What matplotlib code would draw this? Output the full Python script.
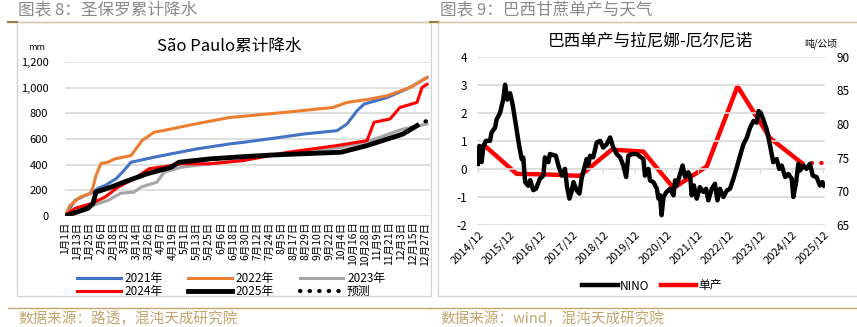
import matplotlib
matplotlib.use('Agg')
import matplotlib.pyplot as plt
from matplotlib.lines import Line2D
from matplotlib.patches import Rectangle
from matplotlib.ticker import FuncFormatter

plt.rcParams['font.family'] = ['Noto Sans CJK SC', 'DejaVu Sans']
plt.rcParams['axes.unicode_minus'] = False

# ---- left chart: cumulative rainfall, day of year vs mm ----
day_2021 = [0, 10, 20, 25, 33, 40, 51, 59, 66, 89, 106, 132, 165, 178, 206, 239, 272, 282, 292, 299, 322, 345, 362]
mm_2021 = [0, 122, 160, 174, 215, 238, 290, 355, 419, 458, 484, 523, 562, 574, 603, 639, 665, 717, 820, 872, 923, 1001, 1079]
day_2022 = [0, 5, 15, 25, 28, 31, 36, 43, 50, 66, 71, 77, 89, 106, 122, 139, 165, 173, 219, 268, 282, 305, 322, 345, 362]
mm_2022 = [0, 83, 147, 174, 225, 316, 409, 419, 445, 471, 523, 588, 652, 678, 704, 730, 768, 773, 807, 846, 885, 911, 937, 1001, 1079]
day_2023 = [0, 23, 43, 56, 69, 76, 92, 99, 116, 145, 178, 206, 276, 305, 338, 362]
mm_2023 = [0, 70, 122, 178, 186, 225, 264, 341, 380, 407, 432, 471, 535, 587, 678, 717]
day_2024 = [0, 10, 26, 40, 53, 69, 84, 106, 116, 145, 178, 223, 272, 302, 309, 325, 335, 352, 357, 362]
mm_2024 = [0, 60, 96, 147, 225, 290, 368, 393, 407, 407, 432, 497, 549, 587, 730, 756, 846, 885, 1001, 1027]
day_2025 = [0, 23, 28, 31, 46, 59, 82, 106, 114, 145, 178, 206, 276, 302, 338, 352]
mm_2025 = [0, 60, 98, 186, 225, 264, 329, 380, 419, 445, 462, 475, 497, 549, 639, 704]
day_fc = [352, 356, 359, 362]
mm_fc = [704, 720, 735, 740]

date_ticks = list(range(0, 361, 12))
date_labels = ['1月1日', '1月13日', '1月25日', '2月6日', '2月18日', '3月2日', '3月14日', '3月26日',
               '4月7日', '4月19日', '5月1日', '5月13日', '5月25日', '6月6日', '6月18日', '6月30日',
               '7月12日', '7月24日', '8月5日', '8月17日', '8月29日', '9月10日', '9月22日', '10月4日',
               '10月16日', '10月28日', '11月9日', '11月21日', '12月3日', '12月15日', '12月27日']

# ---- right chart: NINO index and Brazil cane yield ----
nino_t = [2014.91, 2014.96, 2015.03, 2015.09, 2015.17, 2015.30, 2015.35, 2015.46, 2015.51, 2015.62,
          2015.72, 2015.78, 2015.85, 2015.94, 2016.02, 2016.13, 2016.23, 2016.31, 2016.36, 2016.42,
          2016.52, 2016.58, 2016.68, 2016.77, 2016.89, 2017.00, 2017.05, 2017.16, 2017.21, 2017.40,
          2017.48, 2017.59, 2017.69, 2017.75, 2017.83, 2017.90, 2017.96, 2018.06, 2018.15, 2018.22,
          2018.30, 2018.38, 2018.43, 2018.49, 2018.59, 2018.70, 2018.81, 2018.91, 2019.02, 2019.13,
          2019.23, 2019.34, 2019.45, 2019.55, 2019.64, 2019.71, 2019.82, 2019.98, 2020.07, 2020.19,
          2020.24, 2020.35, 2020.40, 2020.51, 2020.62, 2020.67, 2020.72, 2020.77, 2020.83, 2020.93,
          2021.04, 2021.15, 2021.20, 2021.25, 2021.36, 2021.44, 2021.52, 2021.62, 2021.68, 2021.73,
          2021.80, 2021.89, 2021.99, 2022.10, 2022.19, 2022.26, 2022.37, 2022.47, 2022.55, 2022.63,
          2022.74, 2022.85, 2022.95, 2023.06, 2023.17, 2023.27, 2023.38, 2023.49, 2023.59, 2023.70,
          2023.80, 2023.86, 2023.93, 2024.01, 2024.12, 2024.23, 2024.33, 2024.44, 2024.52, 2024.60,
          2024.71, 2024.81, 2024.92, 2024.97, 2025.06, 2025.13, 2025.18, 2025.29, 2025.39, 2025.50,
          2025.59, 2025.71, 2025.82, 2025.90, 2025.95]
nino_v = [0.18, 0.82, 0.24, 0.80, 1.00, 1.00, 1.30, 1.47, 1.76, 2.00,
          2.47, 3.00, 2.47, 2.70, 2.30, 1.53, 0.82, 0.35, 0.40, -0.47,
          -0.60, -0.40, -0.76, -0.70, -0.35, -0.24, 0.41, 0.24, 0.53, 0.47,
          0.12, -0.24, 0.00, -0.60, -1.06, -0.82, -0.47, -0.76, -0.88, -0.35,
          0.00, 0.35, 0.12, 0.47, 0.41, 0.94, 1.00, 0.76, 0.88, 1.12,
          0.76, 0.53, 0.41, 0.12, -0.29, 0.47, 0.53, 0.53, 0.45, 0.35,
          -0.24, 0.00, -0.41, -0.47, -0.71, -1.06, -0.94, -1.65, -1.00, -0.82,
          -0.71, -0.94, -0.41, -0.59, -0.18, 0.12, -0.29, -0.12, -0.24, -0.94,
          -0.59, -1.06, -0.65, -0.82, -0.71, -1.12, -0.71, -0.53, -1.12, -0.71,
          -1.00, -0.77, -0.71, -0.35, 0.06, 0.47, 0.88, 1.12, 1.47, 1.71,
          1.65, 2.06, 2.00, 1.77, 1.41, 0.82, 0.24, 0.35, 0.00, 0.12,
          -0.29, -0.18, -0.35, -1.00, -0.47, 0.18, -0.06, 0.12, 0.00, 0.18,
          -0.24, -0.29, -0.59, -0.47, -0.59]

yield_t = [2015.1, 2016.15, 2017.17, 2018.17, 2019.18, 2020.19, 2021.15, 2022.21, 2023.19, 2024.23, 2025.24]
yield_v = [76.9, 72.6, 72.5, 72.3, 76.2, 75.9, 70.5, 73.7, 85.6, 77.9, 74.2]
yield_fc_t = [2025.24, 2025.5, 2025.75, 2025.97]
yield_fc_v = [74.2, 74.2, 74.2, 74.2]

year_ticks = [2014.917 + i for i in range(12)]
year_labels = ['%d/12' % (2014 + i) for i in range(12)]

W, H = 857, 327
fig = plt.figure(figsize=(W / 100, H / 100), dpi=100)


def fx(px):
    return px / W


def fy(py):
    return 1 - py / H


gold = '#c3a46c'
grid_c = '#d9d9d9'

# frames, rules and captions
for x0, x1 in [(17, 431), (438, 860)]:
    fig.add_artist(Rectangle((fx(x0), fy(296)), fx(x1 - x0), (296 - 22) / H,
                             fill=False, ec='#d4d4d4', lw=1.0, transform=fig.transFigure))
for x0, x1, xd in [(8, 430, 17), (430, 857, 438)]:
    fig.add_artist(Line2D([fx(x0), fx(x1)], [fy(22), fy(22)], color='#d9c9a8', lw=1.0,
                          transform=fig.transFigure))
    fig.add_artist(Line2D([fx(x0), fx(xd)], [fy(22), fy(22)], color='#a08040', lw=1.5,
                          transform=fig.transFigure))
    fig.add_artist(Line2D([fx(x0), fx(x1)], [fy(308), fy(308)], color=gold, lw=1.0,
                          transform=fig.transFigure))

fig.text(fx(18), fy(10), '图表 8：圣保罗累计降水', fontsize=12, color='#8a8a8a', va='center')
fig.text(fx(440), fy(10), '图表 9：巴西甘蔗单产与天气', fontsize=12, color='#8a8a8a', va='center')
fig.text(fx(18), fy(319), '数据来源：路透，混沌天成研究院', fontsize=10.5, color=gold, va='center')
fig.text(fx(440), fy(319), '数据来源：wind，混沌天成研究院', fontsize=10.5, color=gold, va='center')

# ---- left chart ----
ax = fig.add_axes([fx(65), fy(216), fx(430 - 65), (216 - 62) / H])
ax.plot(day_2023, mm_2023, color='#a5a5a5', lw=2.2, label='2023年')
ax.plot(day_2021, mm_2021, color='#4472c4', lw=2.2, label='2021年')
ax.plot(day_2022, mm_2022, color='#ed7d31', lw=2.2, label='2022年')
ax.plot(day_2024, mm_2024, color='#ff0000', lw=2.2, label='2024年')
ax.plot(day_2025, mm_2025, color='black', lw=3.5, label='2025年')
ax.plot(day_fc, mm_fc, color='black', lw=3, ls=(0, (0.1, 2.2)), dash_capstyle='round', label='预测')
ax.set_xlim(0, 365)
ax.set_ylim(0, 1200)
ax.set_yticks(range(0, 1201, 200))
ax.yaxis.set_major_formatter(FuncFormatter(lambda v, p: '{:,.0f}'.format(v)))
ax.set_xticks(date_ticks)
ax.set_xticklabels(date_labels, rotation=90, fontsize=7.5)
ax.tick_params(axis='y', labelsize=8, length=0, pad=12)
ax.tick_params(axis='x', length=0, pad=4)
ax.grid(axis='y', color=grid_c, lw=1.2)
ax.set_axisbelow(True)
for s in ax.spines.values():
    s.set_visible(False)
ax.set_title('São Paulo累计降水', fontsize=12, pad=8, x=0.45)
fig.text(fx(37), fy(48), 'mm', fontsize=6.5, ha='center', va='center')

# legend filled column by column: 2021/2024, 2022/2025, 2023/forecast
h, l = ax.get_legend_handles_labels()
order = [1, 3, 2, 4, 0, 5]
fig.legend([h[i] for i in order], [l[i] for i in order], ncol=3, frameon=False,
           loc='center', bbox_to_anchor=(fx(231), fy(285)), fontsize=8.5,
           handlelength=3.7, columnspacing=2.2, labelspacing=0.05, handletextpad=0.3)

# ---- right chart ----
ax2 = fig.add_axes([fx(477), fy(225), fx(825 - 477), (225 - 56.7) / H])
ax2.plot(nino_t, nino_v, color='black', lw=3.2, label='NINO', zorder=3)
ax2.set_xlim(2014.885, 2025.98)
ax2.set_ylim(-2, 4)
ax2.set_yticks(range(-2, 5))
ax2.set_xticks(year_ticks)
ax2.set_xticklabels(year_labels, rotation=45, ha='right', rotation_mode='anchor', fontsize=8)
ax2.tick_params(axis='x', length=0, pad=3)
ax2.tick_params(axis='y', labelsize=8.5, length=0, pad=7)
ax2.grid(axis='y', color=grid_c, lw=1.2)
ax2.set_axisbelow(True)
for s in ax2.spines.values():
    s.set_visible(False)
zero_axis = ax2.secondary_xaxis(1 / 3)
zero_axis.set_xticks(year_ticks)
zero_axis.set_xticklabels([])
zero_axis.tick_params(length=3, direction='out', color='#d9d9d9')
zero_axis.spines['bottom'].set_visible(False)
zero_axis.spines['top'].set_visible(False)

ax3 = ax2.twinx()
ax3.plot(yield_t, yield_v, color='#ff0000', lw=3.2, label='单产', zorder=2)
ax3.plot(yield_fc_t, yield_fc_v, color='#ff0000', lw=3.0, ls=(0, (0.1, 2.2)), dash_capstyle='round')
ax3.set_ylim(65, 90)
ax3.set_yticks(range(65, 91, 5))
ax3.tick_params(axis='y', labelsize=8.5, length=0, pad=8)
for s in ax3.spines.values():
    s.set_visible(False)
ax2.set_zorder(ax3.get_zorder() + 1)
ax2.patch.set_visible(False)

ax2.set_title('巴西单产与拉尼娜-厄尔尼诺', fontsize=12, pad=8, x=0.5)
fig.text(fx(821), fy(44), '吨/公顷', fontsize=7, ha='center', va='center')

hn, ln = ax2.get_legend_handles_labels()
hy, ly = ax3.get_legend_handles_labels()
fig.legend(hn + hy, ln + ly, ncol=2, frameon=False, loc='center',
           bbox_to_anchor=(fx(652), fy(286)), fontsize=8.5, handlelength=3.0,
           columnspacing=1.0, handletextpad=0.15)

fig.savefig('out.png', dpi=100)
